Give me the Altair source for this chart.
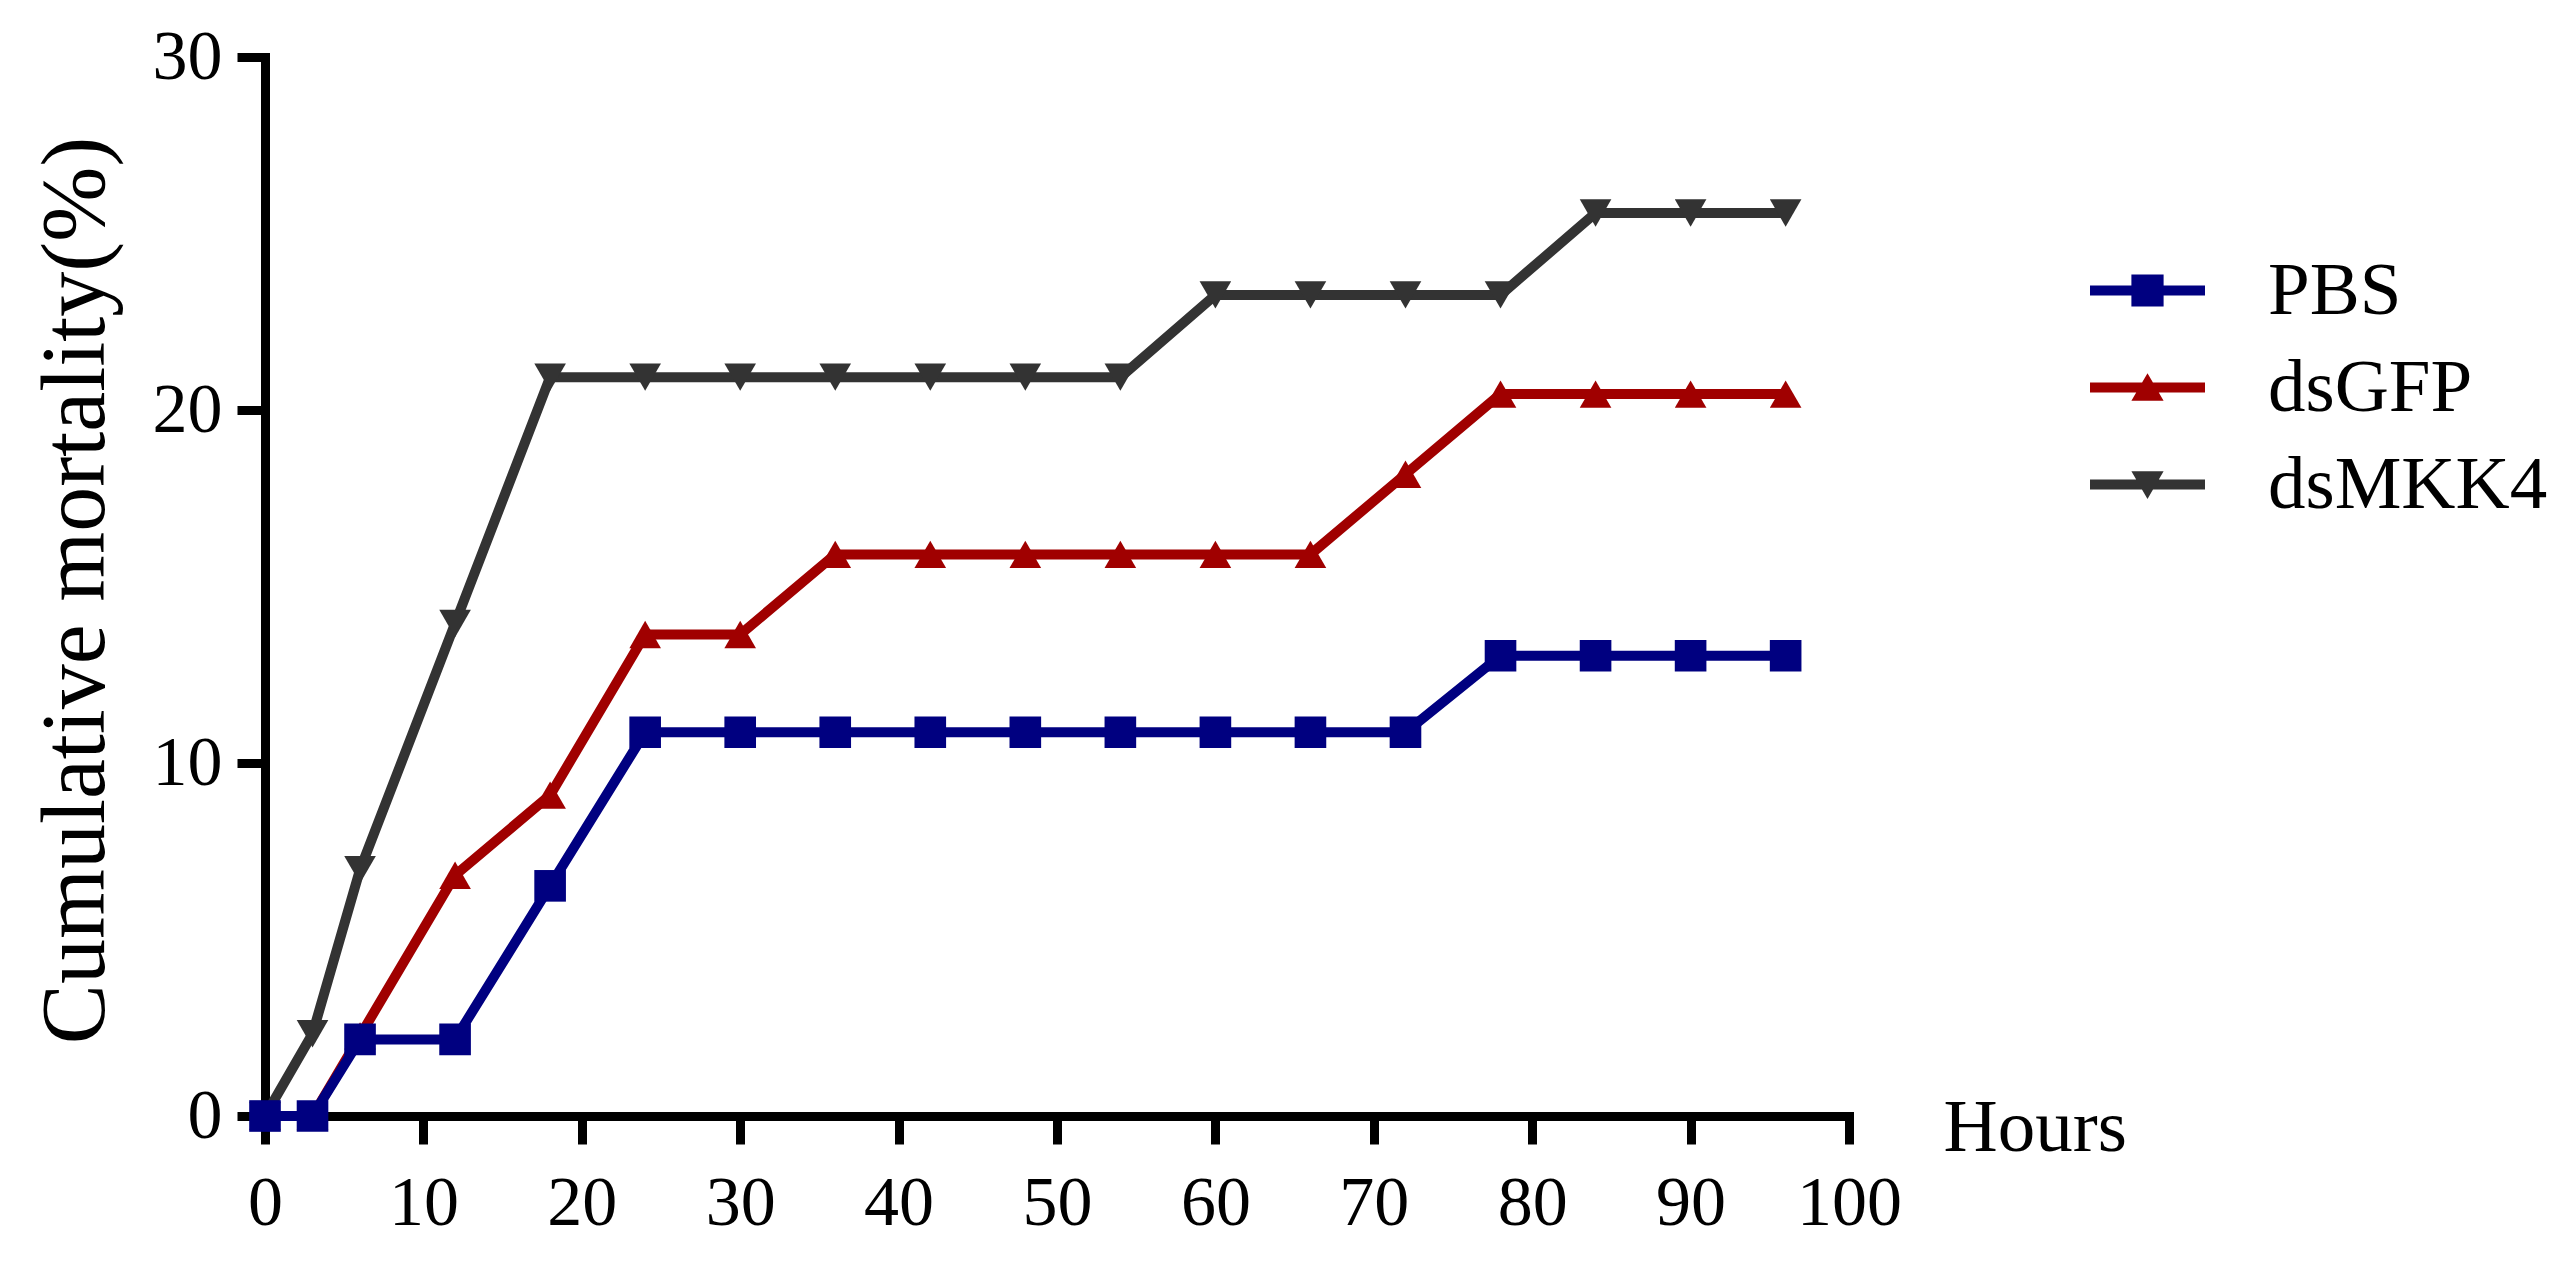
import altair as alt
import pandas as pd

# ---- data ----
hours = [0, 3, 6, 12, 18, 24, 30, 36, 42, 48, 54, 60, 66, 72, 78, 84, 90, 96]
pbs = [0, 0, 2.17, 2.17, 6.52, 10.87, 10.87, 10.87, 10.87, 10.87, 10.87,
       10.87, 10.87, 10.87, 13.04, 13.04, 13.04, 13.04]
dsgfp = [0, 0, 2.27, 6.82, 9.09, 13.64, 13.64, 15.91, 15.91, 15.91, 15.91,
         15.91, 15.91, 18.18, 20.45, 20.45, 20.45, 20.45]
dsmkk4 = [0, 2.33, 6.98, 13.95, 20.93, 20.93, 20.93, 20.93, 20.93, 20.93,
          20.93, 23.26, 23.26, 23.26, 23.26, 25.58, 25.58, 25.58]

series_names = ["PBS", "dsGFP", "dsMKK4"]
series_colors = ["#000080", "#A00000", "#333333"]
point_shapes = ["square", "triangle-up", "triangle-down"]
# legend glyphs: line segment + marker (unit box -1..1)
legend_shapes = [
    "M-1,-0.087H1V0.087H-1Z M-0.28,-0.28H0.28V0.28H-0.28Z",
    "M-1,-0.087H1V0.087H-1Z M0,-0.25L0.28,0.23L-0.28,0.23Z",
    "M-1,-0.087H1V0.087H-1Z M-0.28,-0.23L0.28,-0.23L0,0.25Z",
]
x_ticks = list(range(0, 101, 10))
y_ticks = [0, 10, 20, 30]

rows = []
for name, vals in zip(series_names, [pbs, dsgfp, dsmkk4]):
    for h, v in zip(hours, vals):
        rows.append({"hour": h, "value": v, "series": name})
df = pd.DataFrame(rows)

FONT = "Liberation Serif"

x_enc = alt.X(
    "hour:Q",
    scale=alt.Scale(domain=[0, 100], nice=False, zero=False),
    axis=alt.Axis(
        values=x_ticks, title="Hours", titleX=1678, titleY=34,
        titleAlign="left", titleBaseline="alphabetic", titleAngle=0,
        titleFontSize=75, titleFontWeight="normal", titleFont=FONT, titleColor="black",
        labelFont=FONT, labelFontSize=70, labelColor="black", labelPadding=25,
        labelFlush=False, labelOverlap=False,
        tickSize=28, tickWidth=9, tickColor="black",
        domainWidth=9, domainColor="black", domainCap="square", grid=False,
    ),
)
y_enc = alt.Y(
    "value:Q",
    scale=alt.Scale(domain=[0, 30], nice=False),
    axis=alt.Axis(
        values=y_ticks, title="Cumulative mortality(%)", titleX=-162, titleY=533,
        titleAngle=270, titleAlign="center", titleBaseline="alphabetic",
        titleFontSize=90, titleFontWeight="normal", titleFont=FONT, titleColor="black",
        labelFont=FONT, labelFontSize=70, labelColor="black", labelPadding=15,
        labelFlush=False, labelOverlap=False,
        tickSize=28, tickWidth=9, tickColor="black",
        domainWidth=9, domainColor="black", domainCap="square", grid=False,
    ),
)

base = alt.Chart(df)
layers = []
# draw dsMKK4 first, PBS last (on top)
for name, shape, col in reversed(list(zip(series_names, point_shapes, series_colors))):
    sel = base.transform_filter(alt.datum.series == name)
    layers.append(
        sel.mark_line(strokeWidth=10, color=col).encode(x=x_enc, y=y_enc)
    )
    layers.append(
        sel.mark_point(shape=shape, filled=True, size=1000, opacity=1,
                       strokeWidth=0, color=col)
        .encode(x=x_enc, y=y_enc)
    )

legend_props = dict(
    title=None, orient="none", legendX=1825, legendY=176,
    symbolSize=13225, symbolStrokeWidth=0, symbolOpacity=1,
    labelFont=FONT, labelFontSize=75, labelColor="black",
    labelOffset=63, rowPadding=1, padding=0, labelLimit=0,
)
# legend provider: invisible points, legend shows line+marker glyphs
legend_layer = (
    base.mark_point(filled=True, opacity=0, strokeWidth=0)
    .encode(
        x=x_enc,
        y=y_enc,
        fill=alt.Fill(
            "series:N",
            scale=alt.Scale(domain=series_names, range=series_colors),
            legend=alt.Legend(**legend_props),
        ),
        shape=alt.Shape(
            "series:N",
            scale=alt.Scale(domain=series_names, range=legend_shapes),
            legend=alt.Legend(**legend_props),
        ),
    )
)
layers.append(legend_layer)

chart = (
    alt.layer(*layers)
    .properties(
        width=1584,
        height=1059,
        padding={"left": 257, "top": 49, "right": 700, "bottom": 140},
        autosize=alt.AutoSizeParams(type="none"),
        background="white",
    )
    .configure_view(stroke=None)
)

chart.save("out.html", embed_options={"renderer": "svg", "actions": False})
